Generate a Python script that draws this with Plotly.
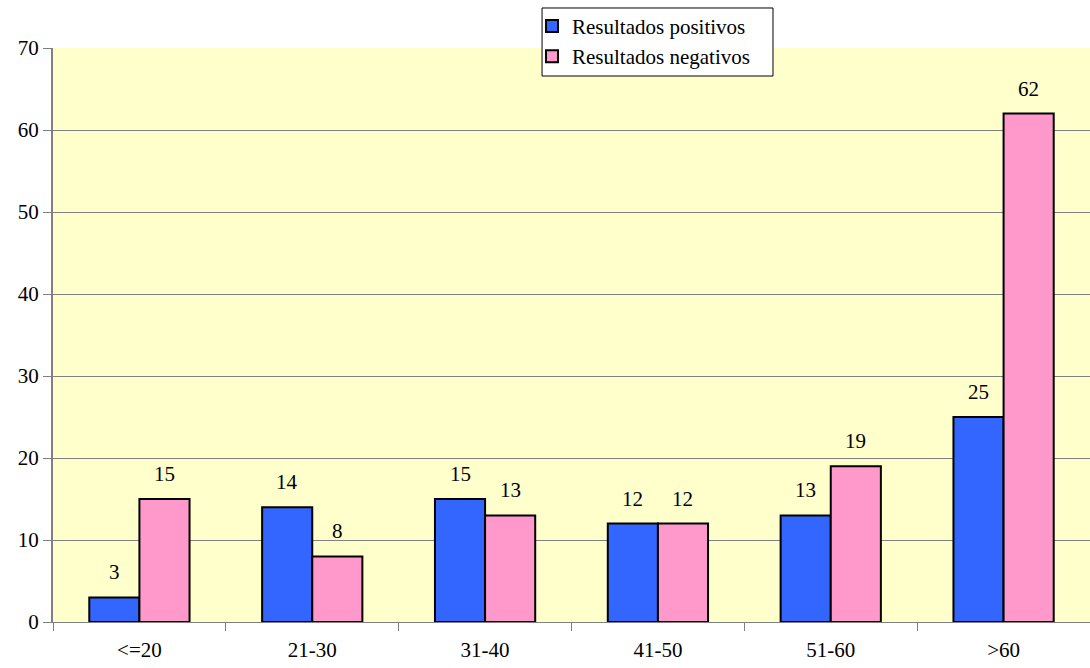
import plotly.graph_objects as go

categories = ["<=20", "21-30", "31-40", "41-50", "51-60", ">60"]
positivos = [3, 14, 15, 12, 13, 25]
negativos = [15, 8, 13, 12, 19, 62]

FONT = "Liberation Serif, Times New Roman, serif"
FS = 21

fig = go.Figure()
fig.add_trace(go.Bar(name="Resultados positivos", x=categories, y=positivos,
                     marker=dict(color="#3366FF", line=dict(color="black", width=2))))
fig.add_trace(go.Bar(name="Resultados negativos", x=categories, y=negativos,
                     marker=dict(color="#FF99CC", line=dict(color="black", width=2))))

for vals, shift in ((positivos, -25), (negativos, 25)):
    for c, v in zip(categories, vals):
        fig.add_annotation(x=c, y=v, text=str(v), showarrow=False, xshift=shift,
                           yshift=25, yanchor="middle",
                           font=dict(family=FONT, size=FS, color="black"))

# legend frame
fig.add_shape(type="rect", xref="paper", yref="paper",
              x0=0.4716, x1=0.6943, y0=0.9512, y1=1.0697,
              fillcolor="white", line=dict(color="black", width=1), layer="above")

fig.update_layout(
    width=1090, height=668,
    margin=dict(l=53, r=0, t=48, b=46, autoexpand=False),
    paper_bgcolor="white", plot_bgcolor="#FFFFCC",
    barmode="group", bargap=0.42, bargroupgap=0,
    font=dict(family=FONT, size=FS, color="black"),
    showlegend=True,
    legend=dict(x=0.4619, y=1.0735, xanchor="left", yanchor="top",
                bgcolor="rgba(0,0,0,0)", borderwidth=0,
                font=dict(family=FONT, size=FS), tracegroupgap=0,
                itemwidth=30),
)
fig.update_xaxes(type="category", tickson="boundaries", ticks="outside", ticklen=8,
                 tickcolor="#808080", showline=True, linecolor="#808080", linewidth=1,
                 showgrid=False, ticklabelstandoff=9, tickfont=dict(family=FONT, size=FS))
fig.update_yaxes(range=[0, 70], dtick=10, ticks="outside", ticklen=8, tickcolor="#808080",
                 showline=True, linecolor="#808080", linewidth=2, showgrid=True,
                 gridcolor="#808080", gridwidth=1, zeroline=False,
                 tickfont=dict(family=FONT, size=FS))

fig.write_html("out.html", config={"displayModeBar": False},
               post_script="document.body.style.margin='0';")
